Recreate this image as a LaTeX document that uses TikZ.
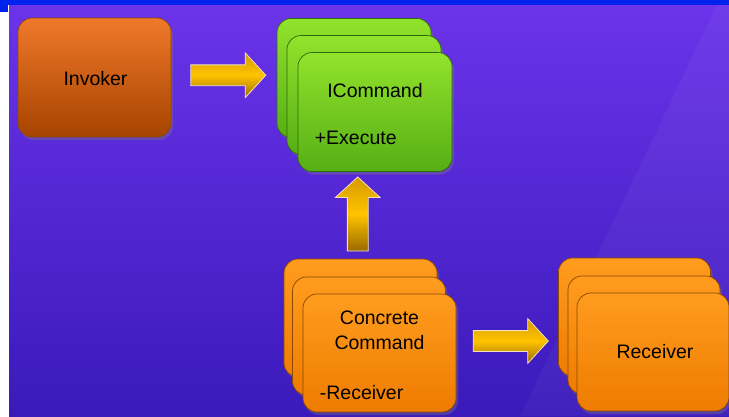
\documentclass[tikz,border=0pt]{standalone}
\usepackage{fontspec}
\setmainfont{Liberation Sans}
\usepackage{tikz}
\usetikzlibrary{shapes.arrows,shadows,calc}

\definecolor{slidetop}{HTML}{6B33EA}
\definecolor{slidebot}{HTML}{3A1ABA}
\definecolor{headbar}{HTML}{0022EE}
\definecolor{orangetop}{HTML}{FF9C1E}
\definecolor{orangebot}{HTML}{EE7C00}
\definecolor{orangeline}{HTML}{8A4800}
\definecolor{invtop}{HTML}{F0782A}
\definecolor{invbot}{HTML}{A64400}
\definecolor{greentop}{HTML}{92E32C}
\definecolor{greenbot}{HTML}{56AE14}
\definecolor{greenline}{HTML}{2F6A08}
\definecolor{goldtop}{HTML}{D49A00}
\definecolor{goldmid}{HTML}{FFC400}
\definecolor{goldbot}{HTML}{9A6A00}
\definecolor{arrowline}{HTML}{F4E2BC}

\tikzstyle{card} = [rectangle, rounded corners=14pt, inner sep=0pt, minimum width=154pt, minimum height=119pt, line width=0.7pt, drop shadow={shadow xshift=2pt, shadow yshift=-3pt, opacity=0.35}]
\tikzstyle{orangecard} = [card, draw=orangeline, top color=orangetop, bottom color=orangebot]
\tikzstyle{greencard} = [card, draw=greenline, top color=greentop, bottom color=greenbot]
\tikzstyle{goldarrow} = [single arrow, draw=arrowline, line width=0.8pt, top color=goldtop, bottom color=goldbot, middle color=goldmid, inner sep=0pt, text width=0pt, text height=10pt, text depth=10pt, minimum height=75pt, single arrow head extend=12pt, single arrow tip angle=95]
\tikzstyle{cardtext} = [font=\fontsize{19.5}{25}\selectfont, text=black, inner sep=0pt, align=center]

\begin{document}
\begin{tikzpicture}[x=1pt, y=-1pt]
\useasboundingbox (0,0) rectangle (729,416);
% slide background
\fill[white] (0,0) rectangle (729,416);
\shade[top color=slidetop, bottom color=slidebot] (9,5) rectangle (729,416);
\fill[white, opacity=0.04] (717,5) -- (729,5) -- (729,416) -- (520,416) -- cycle;
\fill[headbar] (0,0) rectangle (729,5);
\fill[headbar] (0,0) rectangle (8,12);

% invoker
\node[card, draw=orangeline, top color=invtop, bottom color=invbot, minimum width=153pt] (invoker) at (94.5,77.5) {};
\node[cardtext] (invokername) at ([xshift=1pt, yshift=-1pt]invoker.center) {Invoker};

% ICommand stack
\node[greencard] (icmdback) at (354,78) {};
\node[greencard] (icmdmid) at (364,95) {};
\node[greencard] (icmd) at (375,112) {};
\node[cardtext] (icmdname) at ([yshift=-38pt]icmd.north) {ICommand};
\node[cardtext, anchor=west] (icmdop) at ([xshift=17pt, yshift=34pt]icmd.south west) {+Execute};

% Concrete Command stack
\node[orangecard, minimum width=153pt, minimum height=118pt] (ccback) at (360.5,318) {};
\node[orangecard, minimum width=153pt, minimum height=118pt] (ccmid) at (369,336) {};
\node[orangecard, minimum width=153pt, minimum height=118pt] (cc) at (379.5,353) {};
\node[cardtext] (ccname) at ([yshift=-36.5pt]cc.north) {Concrete\\Command};
\node[cardtext, anchor=west] (ccfield) at ([xshift=17pt, yshift=20pt]cc.south west) {-Receiver};

% Receiver stack
\node[orangecard, minimum width=152pt, minimum height=118pt] (recvback) at (634.5,317) {};
\node[orangecard, minimum width=152pt, minimum height=118pt] (recvmid) at (644,335) {};
\node[orangecard, minimum width=152pt, minimum height=118pt] (recv) at (653,352) {};
\node[cardtext] (recvname) at ([xshift=2pt]recv.center) {Receiver};

% block arrows
\node[goldarrow] (calls) at ($(invoker.east)!0.5!(icmdback.west) + (-0.5,-2.5)$) {};
\node[goldarrow, rotate=90, minimum height=74pt] (implements) at ($(icmd.south)!0.5!(ccback.north) + (-10,3.5)$) {};
\node[goldarrow] (acts) at ($(cc.east)!0.5!(recv.west) + (-10.5,-11.5)$) {};
\end{tikzpicture}
\end{document}
